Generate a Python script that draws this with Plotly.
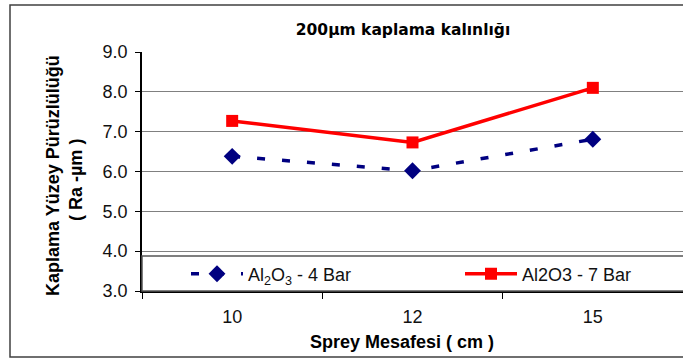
import plotly.graph_objects as go

# Spray distance categories (cm) and surface roughness Ra (µm)
distances = ["10", "12", "15"]
ra_4bar = [6.38, 6.02, 6.81]
ra_7bar = [7.27, 6.73, 8.10]
y_ticks = [3.0, 4.0, 5.0, 6.0, 7.0, 8.0, 9.0]

W, H = 683, 360
L, R, T, B = 142, 0, 52, 69
pw, ph = W - L - R, H - T - B


def px_x(px):
    return (px - L) / pw


def px_y(py):
    return (H - B - py) / ph


font = "Liberation Sans, Arial, sans-serif"
title_font = "DejaVu Sans, Verdana, sans-serif"

fig = go.Figure()
fig.add_trace(go.Scatter(
    x=distances, y=ra_4bar, mode="lines+markers",
    name="Al<sub>2</sub>O<sub>3</sub> - 4 Bar", legend="legend",
    line=dict(color="#000080", width=3.5, dash="8px,17px"),
    marker=dict(symbol="diamond", size=13, color="#000080"),
))
fig.add_trace(go.Scatter(
    x=distances, y=ra_7bar, mode="lines+markers",
    name="Al2O3 - 7 Bar", legend="legend2",
    line=dict(color="#ff0000", width=3.5),
    marker=dict(symbol="square", size=12, color="#ff0000"),
))

shapes = [
    # outer chart frame
    dict(type="rect", xref="paper", yref="paper",
         x0=px_x(10), x1=px_x(700), y0=px_y(357), y1=px_y(5),
         line=dict(color="#404040", width=1.5), fillcolor="rgba(0,0,0,0)", layer="below"),
    # legend box spanning the plot width
    dict(type="rect", xref="paper", yref="paper",
         x0=0, x1=1.02, y0=0, y1=px_y(256),
         line=dict(color="#555555", width=1.5), fillcolor="white", layer="above"),
]

annotations = [
    dict(text="<b>Sprey Mesafesi ( cm )</b>", xref="paper", yref="paper",
         x=px_x(402), y=px_y(342), showarrow=False, xanchor="center", yanchor="middle",
         font=dict(family=font, size=18, color="#000")),
    dict(text="<b>Kaplama Yüzey Pürüzlülüğü</b>", xref="paper", yref="paper",
         x=px_x(53), y=px_y(176), showarrow=False, textangle=-90,
         xanchor="center", yanchor="middle",
         font=dict(family=font, size=18, color="#000")),
    dict(text="<b>( Ra -µm )</b>", xref="paper", yref="paper",
         x=px_x(76), y=px_y(180), showarrow=False, textangle=-90,
         xanchor="center", yanchor="middle",
         font=dict(family=font, size=18, color="#000")),
]

legend_common = dict(orientation="h", yanchor="middle", xanchor="left",
                     bgcolor="rgba(0,0,0,0)", itemwidth=52,
                     font=dict(family=font, size=18, color="#111"))

fig.update_layout(
    width=W, height=H,
    margin=dict(l=L, r=R, t=T, b=B),
    paper_bgcolor="white", plot_bgcolor="white",
    title=dict(text="<b>200µm kaplama kalınlığı</b>", xref="container", yref="container",
               x=403 / W, y=1 - 30 / H, xanchor="center", yanchor="middle",
               font=dict(family=title_font, size=15.5, color="#000")),
    shapes=shapes, annotations=annotations,
    showlegend=True,
    legend=dict(x=px_x(186), y=px_y(274), **legend_common),
    legend2=dict(x=px_x(460), y=px_y(274), **legend_common),
    xaxis=dict(type="category", range=[-0.5, 2.5], showgrid=False,
               showline=True, linecolor="#000", linewidth=2,
               ticks="outside", tickson="boundaries", ticklen=6, tickcolor="#000",
               ticklabelstandoff=8,
               tickfont=dict(family=font, size=18, color="#111")),
    yaxis=dict(range=[3, 9], tickvals=y_ticks, ticktext=[f"{v:.1f}" for v in y_ticks],
               showgrid=True, gridcolor="#808080", gridwidth=1.2,
               showline=True, linecolor="#000", linewidth=1.5,
               ticks="outside", ticklen=5, tickcolor="#000",
               ticklabelstandoff=4,
               tickfont=dict(family=font, size=18, color="#111"), zeroline=False),
)

fig.write_html("out.html")
